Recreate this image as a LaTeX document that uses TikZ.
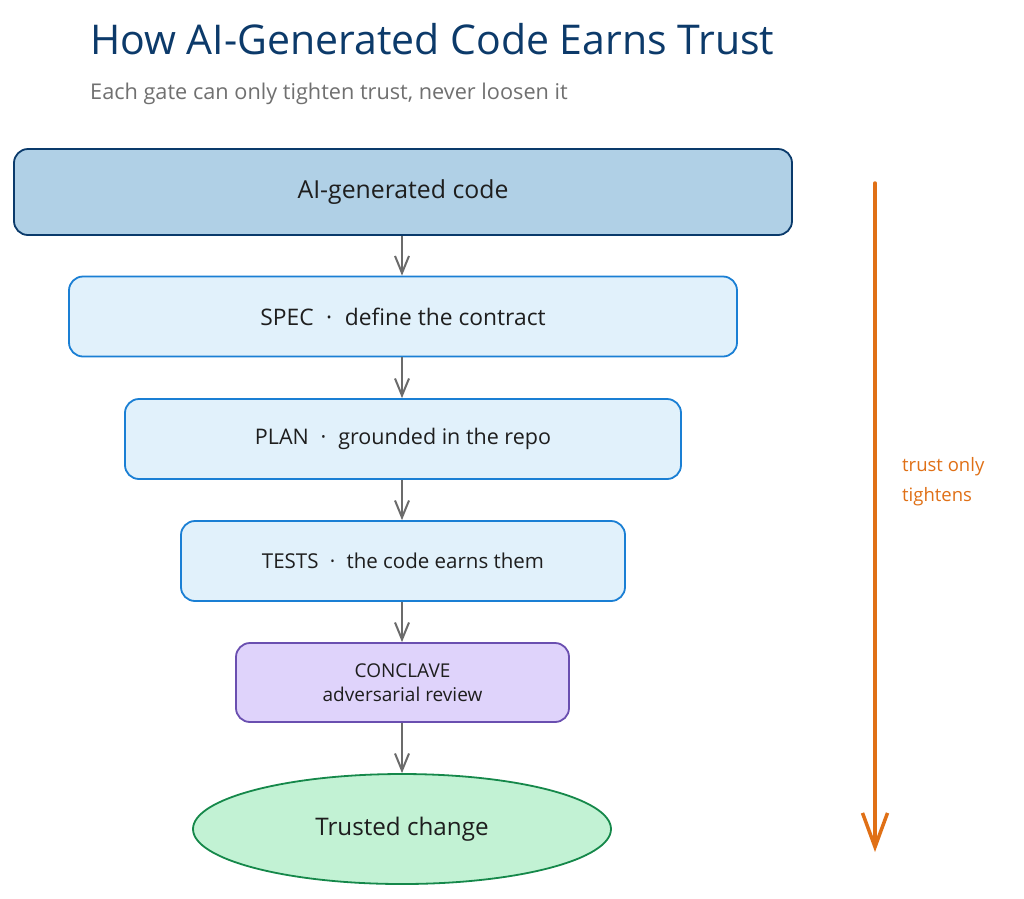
\documentclass[tikz,border=0pt]{standalone}
\usepackage{fontspec}
\setmainfont{Open Sans}
\usetikzlibrary{shapes.geometric,arrows.meta}
\definecolor{titleblue}{HTML}{0C3A6A}
\definecolor{subgray}{HTML}{707070}
\definecolor{topfill}{HTML}{B0D0E6}
\definecolor{topdraw}{HTML}{0A3A6B}
\definecolor{gatefill}{HTML}{E1F1FB}
\definecolor{gatedraw}{HTML}{1A7FD4}
\definecolor{confill}{HTML}{DFD3FB}
\definecolor{condraw}{HTML}{6A4FB0}
\definecolor{endfill}{HTML}{C2F2D4}
\definecolor{enddraw}{HTML}{15884A}
\definecolor{arrgray}{HTML}{6B6B6B}
\definecolor{trustorange}{HTML}{E07016}
\definecolor{textdark}{HTML}{1E1E1E}
\tikzset{
  box/.style={rectangle, rounded corners=14pt, line width=1.8pt, inner sep=0pt, text=textdark},
  gate/.style={box, fill=gatefill, draw=gatedraw, minimum height=80pt},
  flow/.style={draw=arrgray, line width=2pt, -{Straight Barb[length=17pt,width=14pt,line width=2pt]}},
}
\newcommand{\sepdot}{\hspace{0.55em}·\hspace{0.55em}}
\begin{document}
\begin{tikzpicture}[x=1pt,y=-1pt]
\useasboundingbox (0,0) rectangle (1024,898);
\fill[white] (0,0) rectangle (1024,898);
\node[anchor=base west, text=titleblue, font=\fontsize{41}{46}\selectfont, inner sep=0pt] (title) at (90,54) {How AI-Generated Code Earns Trust};
\node[anchor=base west, text=subgray, font=\fontsize{21.7}{25}\selectfont, inner sep=0pt] (sub) at (90,99) {Each gate can only tighten trust, never loosen it};

\node[box, fill=topfill, draw=topdraw, minimum width=778pt, minimum height=86pt, font=\fontsize{24.8}{29}\selectfont] (ai) at (403,192) {AI-generated code};
\node[gate, minimum width=668pt, font=\fontsize{22.8}{27}\selectfont] (spec) at (403,316.5) {SPEC\sepdot define the contract};
\node[gate, minimum width=556pt, font=\fontsize{21.5}{25}\selectfont] (plan) at (403,439) {PLAN\sepdot grounded in the repo};
\node[gate, minimum width=444pt, font=\fontsize{20.5}{24}\selectfont] (tests) at (403,561) {TESTS\sepdot the code earns them};
\node[box, fill=confill, draw=condraw, minimum width=333pt, minimum height=79pt, align=center, font=\fontsize{19}{24}\selectfont] (con) at (402.5,682.5) {CONCLAVE\\adversarial review};
\node[ellipse, fill=endfill, draw=enddraw, line width=1.8pt, minimum width=418pt, minimum height=110pt, inner sep=0pt, text=textdark, font=\fontsize{24.2}{28}\selectfont] (end) at (402,829) {Trusted change};

\draw[flow] (ai.south -| 402,0) -- (spec.north -| 402,0);
\draw[flow] (spec.south -| 402,0) -- (plan.north -| 402,0);
\draw[flow] (plan.south -| 402,0) -- (tests.north -| 402,0);
\draw[flow] (tests.south -| 402,0) -- (con.north -| 402,0);
\draw[flow] (con.south -| 402,0) -- (end.north);

\coordinate (ts) at (875,183);
\coordinate (te) at (875,852);
\draw[trustorange, line width=3.5pt, line cap=round, -{Straight Barb[length=34pt,width=25pt,line width=3.5pt]}] (ts) -- (te);
\node[anchor=base west, align=left, text=trustorange, font=\fontsize{18.5}{30}\selectfont, inner sep=0pt] (tlabel) at (902,501) {trust only\\tightens};
\end{tikzpicture}
\end{document}
